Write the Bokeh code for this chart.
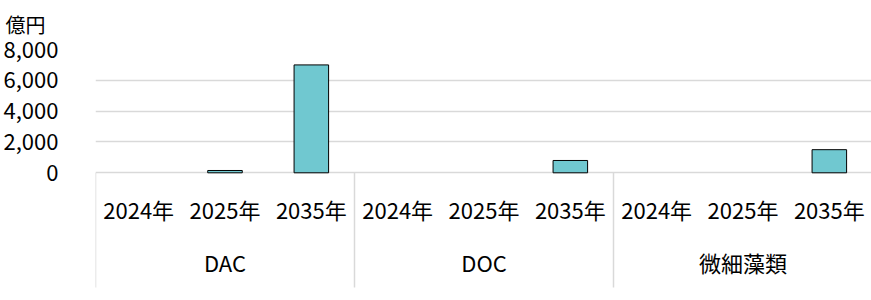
from bokeh.plotting import figure
from bokeh.models import ColumnDataSource, FactorRange, Range1d, FixedTicker, Title, NumeralTickFormatter
from bokeh.core.properties import value
from bokeh.embed import file_html
from bokeh.resources import INLINE

# ---- data ----
categories = ["DAC", "DOC", "微細藻類"]
years = ["2024年", "2025年", "2035年"]
dac_values = [0, 150, 7000]
doc_values = [0, 0, 800]
algae_values = [0, 0, 1500]
y_ticks = [0, 2000, 4000, 6000, 8000]
unit_label = "億円"

series = [dac_values, doc_values, algae_values]
factors = [(c, y) for c in categories for y in years]
vals = [v for s in series for v in s]

FONT = "Noto Sans CJK JP"
BAR_COLOR = "#70C8D0"
GRID_COLOR = "#D9D9D9"

# screen mapping helpers (layout only)
frame_top_px, zero_px, frame_bottom_px = 49, 172.3, 300
ppu = (zero_px - frame_top_px) / max(y_ticks)
y_low = -(frame_bottom_px - zero_px) / ppu

def px_to_y(px):
    return -(px - zero_px) / ppu

x_range = FactorRange(*factors, factor_padding=0, subgroup_padding=0, group_padding=0, range_padding=0)

p = figure(width=871, height=300, x_range=x_range, y_range=Range1d(y_low, max(y_ticks)),
           output_backend="svg", toolbar_location=None,
           min_border_left=93, min_border_right=1, min_border_top=frame_top_px, min_border_bottom=0,
           frame_width=777, frame_height=frame_bottom_px - frame_top_px)
p.outline_line_color = None
p.background_fill_color = "white"
p.border_fill_color = "white"

# bars (skip zero values)
bar_src = ColumnDataSource(dict(
    x=[f for f, v in zip(factors, vals) if v > 0],
    top=[v for v in vals if v > 0],
))
p.vbar(x="x", top="top", bottom=0, width=0.4, source=bar_src,
       fill_color=BAR_COLOR, line_color="black", line_width=1)

# group separators below the baseline
n = len(years)
bounds = [i * n for i in range(len(categories) + 1)]
sep_src = ColumnDataSource(dict(x0=bounds, x1=bounds, y0=[0] * len(bounds), y1=[px_to_y(287)] * len(bounds)))
p.segment(x0="x0", y0="y0", x1="x1", y1="y1", source=sep_src, line_color=GRID_COLOR, line_width=1.5)

# year labels
yr_src = ColumnDataSource(dict(x=factors, y=[px_to_y(208)] * len(factors), t=[f[1] for f in factors]))
p.text(x="x", y="y", text="t", source=yr_src, text_font=value(FONT), text_font_size="22px",
       text_align="center", text_baseline="middle", text_color="black")

# category labels
cat_src = ColumnDataSource(dict(x=categories, y=[px_to_y(261)] * len(categories), t=categories))
p.text(x="x", y="y", text="t", source=cat_src, text_font=value(FONT), text_font_size="22px",
       text_align="center", text_baseline="middle", text_color="black")

# axes
p.xaxis.visible = False
p.xgrid.visible = False
p.yaxis.ticker = FixedTicker(ticks=y_ticks)
p.yaxis.formatter = NumeralTickFormatter(format="0,0")
p.yaxis.axis_line_color = None
p.yaxis.major_tick_line_color = None
p.yaxis.minor_tick_line_color = None
p.yaxis.major_label_standoff = 31
p.yaxis.major_label_text_font = FONT
p.yaxis.major_label_text_font_size = "22px"
p.yaxis.major_label_text_color = "black"
p.ygrid.grid_line_color = GRID_COLOR
p.ygrid.grid_line_width = 1.5

# unit label
p.add_layout(Title(text=unit_label, align="left", offset=-90, standoff=18, vertical_align="top",
                   text_font=FONT, text_font_size="20px", text_font_style="normal",
                   text_color="black"), "above")

open("out.html", "w").write(file_html(p, INLINE))
